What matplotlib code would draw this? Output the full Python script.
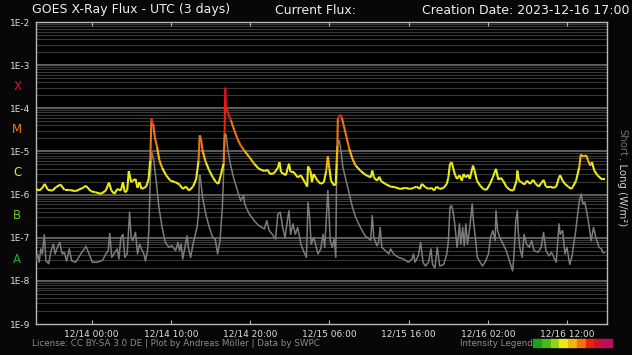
import matplotlib
matplotlib.use("Agg")
import matplotlib.pyplot as plt
import numpy as np
from matplotlib.collections import LineCollection

# hours after 2023-12-13 17:00 UTC
long_hours = [0.0, 0.4, 0.8, 1.1, 1.5, 2.1, 2.5, 3.1, 3.6, 4.2, 5.0, 5.9, 6.3, 6.9, 7.5, 8.2,
              8.8, 9.2, 9.5, 9.9, 10.25, 10.7, 10.96, 11.2, 11.5, 11.7, 12.0, 12.2, 12.55, 12.8,
              13.05, 13.3, 13.6, 13.9, 14.2, 14.4, 14.56, 14.77, 14.98, 15.27, 15.56, 15.9, 16.4,
              16.95, 17.57, 18.1, 18.5, 18.9, 19.3, 19.8, 20.2, 20.5, 20.64, 20.8, 21.0, 21.4,
              21.85, 22.3, 22.7, 23.0, 23.3, 23.65, 23.78, 23.86, 23.99, 24.24, 24.57, 25.0, 25.4,
              25.8, 26.25, 26.9, 27.5, 28.1, 28.8, 29.2, 29.5, 30.0, 30.5, 30.7, 30.9, 31.5, 31.9,
              32.1, 32.5, 33.0, 33.4, 33.9, 34.2, 34.3, 34.6, 34.8, 35.0, 35.5, 35.9, 36.3, 36.6,
              36.8, 37.0, 37.2, 37.6, 37.8, 37.9, 38.0, 38.06, 38.23, 38.4, 38.56, 38.8, 39.15,
              39.5, 39.9, 40.3, 40.9, 41.5, 42.2, 42.4, 42.6, 43.0, 43.3, 43.5, 44.05, 44.7, 45.3,
              45.9, 46.6, 47.2, 47.6, 48.0, 48.4, 48.65, 49.1, 49.5, 49.9, 50.2, 50.5, 50.9, 51.4,
              51.8, 52.0, 52.2, 52.4, 52.85, 53.1, 53.4, 53.7, 53.9, 54.2, 54.5, 54.7, 55.1, 55.3,
              55.6, 56.0, 56.4, 56.8, 57.25, 57.6, 58.0, 58.3, 58.6, 58.9, 59.3, 59.75, 60.2, 60.6,
              60.7, 60.9, 61.2, 61.6, 61.9, 62.3, 62.7, 63.0, 63.4, 63.7, 64.0, 64.3, 64.8, 65.2,
              65.6, 65.95, 66.1, 66.4, 66.7, 67.1, 67.5, 67.7, 68.1, 68.5, 68.7, 69.0, 69.4, 69.6,
              69.9, 70.1, 70.4, 70.8, 71.3, 71.7]
long_flux = [1.35e-6, 1.24e-6, 1.43e-6, 1.77e-6, 1.28e-6, 1.24e-6, 1.48e-6, 1.71e-6, 1.28e-6,
             1.28e-6, 1.2e-6, 1.43e-6, 1.6e-6, 1.2e-6, 1.13e-6, 1.04e-6, 1.24e-6, 1.9e-6, 1.24e-6,
             1.04e-6, 1.35e-6, 1.24e-6, 1.94e-6, 1.13e-6, 1.24e-6, 3.5e-6, 1.94e-6, 2.1e-6, 2.3e-6,
             1.43e-6, 1.94e-6, 1.35e-6, 1.43e-6, 1.53e-6, 2.3e-6, 6.2e-6, 5.75e-5, 4.4e-5, 2.15e-5,
             1.26e-5, 6.2e-6, 4.2e-6, 2.8e-6, 2.1e-6, 1.94e-6, 1.71e-6, 1.35e-6, 1.53e-6, 1.24e-6,
             1.53e-6, 2.3e-6, 6.2e-6, 2.36e-5, 1.97e-5, 1.05e-5, 5.65e-6, 3.6e-6, 2.5e-6, 1.94e-6,
             1.77e-6, 2.8e-6, 5.2e-6, 2.6e-5, 3.0e-4, 1.07e-4, 7.5e-5, 5.3e-5, 3.1e-5, 1.97e-5,
             1.38e-5, 1.05e-5, 7.4e-6, 5.2e-6, 3.95e-6, 3.5e-6, 3.75e-6, 3.0e-6, 3.1e-6, 4.2e-6,
             5.65e-6, 3.3e-6, 2.8e-6, 5.2e-6, 3.3e-6, 3.3e-6, 2.5e-6, 2.8e-6, 1.94e-6, 1.53e-6,
             4.5e-6, 3.6e-6, 1.94e-6, 3.0e-6, 2.1e-6, 1.77e-6, 1.94e-6, 3.6e-6, 7.6e-6, 3.95e-6,
             2.1e-6, 1.62e-6, 1.77e-6, 5.2e-6, 1.38e-5, 5.75e-5, 6.5e-5, 7.1e-5, 6.1e-5, 4.0e-5,
             2.15e-5, 1.15e-5, 6.75e-6, 4.7e-6, 3.6e-6, 2.9e-6, 2.5e-6, 3.6e-6, 2.5e-6, 2.1e-6,
             2.6e-6, 2.05e-6, 1.77e-6, 1.53e-6, 1.48e-6, 1.35e-6, 1.43e-6, 1.35e-6, 1.43e-6,
             1.53e-6, 1.35e-6, 1.77e-6, 1.48e-6, 1.35e-6, 1.43e-6, 1.24e-6, 1.53e-6, 1.35e-6,
             1.43e-6, 1.77e-6, 2.5e-6, 5.2e-6, 5.65e-6, 2.8e-6, 2.3e-6, 2.8e-6, 2.1e-6, 3.0e-6,
             2.5e-6, 2.9e-6, 2.3e-6, 4.7e-6, 3.6e-6, 2.1e-6, 1.62e-6, 1.35e-6, 1.28e-6, 1.77e-6,
             2.5e-6, 3.95e-6, 2.2e-6, 2.45e-6, 2.1e-6, 1.53e-6, 1.28e-6, 1.24e-6, 2.1e-6, 3.6e-6,
             2.1e-6, 1.94e-6, 1.71e-6, 2.1e-6, 1.77e-6, 2.2e-6, 1.77e-6, 1.53e-6, 1.84e-6, 2.2e-6,
             1.53e-6, 1.53e-6, 1.43e-6, 1.53e-6, 2.5e-6, 2.8e-6, 2.1e-6, 1.77e-6, 1.53e-6, 1.35e-6,
             1.53e-6, 2.1e-6, 4.3e-6, 8.5e-6, 7.6e-6, 8.1e-6, 6.2e-6, 4.7e-6, 5.65e-6, 3.6e-6,
             2.8e-6, 2.3e-6, 2.3e-6]

short_hours = [0.0, 0.2, 0.4, 0.6, 0.8, 1.05, 1.25, 1.6, 1.9, 2.2, 2.4, 2.7, 3.0, 3.3, 3.55, 3.85,
               4.2, 4.5, 5.0, 5.65, 6.3, 6.7, 7.1, 7.75, 8.4, 8.8, 9.1, 9.3, 9.55, 9.95, 10.25,
               10.45, 10.7, 10.96, 11.2, 11.5, 11.8, 12.0, 12.2, 12.55, 12.8, 13.05, 13.3, 13.6,
               13.8, 14.06, 14.23, 14.4, 14.6, 14.85, 15.15, 15.5, 15.9, 16.3, 16.75, 17.15, 17.6,
               17.9, 18.1, 18.3, 18.5, 18.7, 19.05, 19.2, 19.5, 19.8, 20.05, 20.3, 20.5, 20.6,
               20.7, 21.0, 21.4, 21.85, 22.3, 22.6, 22.9, 23.2, 23.5, 23.7, 23.82, 23.99, 24.15,
               24.5, 24.9, 25.4, 25.8, 26.2, 26.3, 26.9, 27.5, 28.1, 28.8, 29.1, 29.4, 29.8, 30.2,
               30.5, 30.8, 31.1, 31.4, 31.7, 31.9, 32.1, 32.4, 32.7, 33.0, 33.4, 33.8, 34.1, 34.3,
               34.5, 34.7, 35.0, 35.25, 35.55, 35.9, 36.2, 36.4, 36.6, 36.8, 36.95, 37.1, 37.35,
               37.6, 37.8, 37.9, 38.06, 38.23, 38.4, 38.7, 39.1, 39.5, 39.9, 40.3, 40.9, 41.5,
               42.2, 42.4, 42.6, 43.0, 43.2, 43.4, 43.6, 44.05, 44.5, 44.7, 45.1, 45.7, 46.35,
               46.95, 47.4, 47.6, 47.8, 48.2, 48.5, 48.8, 49.1, 49.5, 49.8, 50.0, 50.3, 50.6, 50.9,
               51.4, 51.8, 52.0, 52.2, 52.4, 52.6, 52.8, 53.1, 53.4, 53.56, 53.8, 54.0, 54.2, 54.4,
               54.7, 55.0, 55.15, 55.4, 55.65, 56.0, 56.3, 56.7, 57.05, 57.3, 57.6, 57.9, 58.0,
               58.2, 58.5, 58.9, 59.3, 59.75, 60.1, 60.25, 60.5, 60.7, 60.8, 61.0, 61.3, 61.55,
               61.85, 62.2, 62.5, 62.8, 63.3, 63.7, 64.0, 64.3, 64.7, 65.0, 65.3, 65.6, 65.95,
               66.1, 66.4, 66.7, 66.95, 67.3, 67.6, 67.8, 68.0, 68.3, 68.55, 68.75, 68.95, 69.2,
               69.5, 69.7, 70.0, 70.3, 70.6, 71.0, 71.3, 71.5, 71.7]
short_flux = [2.9e-8, 4.2e-8, 2.7e-8, 5.5e-8, 4.2e-8, 1.17e-7, 2.9e-8, 2.5e-8, 5.0e-8, 7.1e-8,
              4.2e-8, 6.0e-8, 7.8e-8, 4.2e-8, 4.6e-8, 2.9e-8, 5.5e-8, 2.9e-8, 2.7e-8, 4.2e-8,
              6.3e-8, 4.2e-8, 2.7e-8, 2.7e-8, 3.0e-8, 4.2e-8, 5.0e-8, 1.26e-7, 3.5e-8, 4.6e-8,
              5.5e-8, 3.2e-8, 1.0e-7, 1.2e-7, 3.5e-8, 4.2e-8, 3.9e-7, 1.0e-7, 8.5e-8, 1.33e-7,
              4.2e-8, 7.1e-8, 5.5e-8, 4.2e-8, 2.9e-8, 5.0e-8, 1.46e-7, 2.1e-6, 9.7e-6, 6.2e-6,
              2.1e-6, 5.1e-7, 1.74e-7, 7.8e-8, 6.0e-8, 6.5e-8, 5.0e-8, 7.8e-8, 5.0e-8, 7.1e-8,
              3.2e-8, 5.0e-8, 1.1e-7, 6.0e-8, 3.5e-8, 7.1e-8, 1.1e-7, 1.74e-7, 3.55e-7, 2.8e-6,
              2.8e-6, 8.7e-7, 3.55e-7, 1.74e-7, 1.0e-7, 9.3e-8, 4.2e-8, 8.5e-8, 5.1e-7, 5.2e-6,
              2.6e-5, 2.4e-5, 1.26e-5, 5.2e-6, 2.5e-6, 1.24e-6, 7.25e-7, 9.5e-7, 6.1e-7, 3.55e-7,
              2.5e-7, 1.9e-7, 1.6e-7, 2.5e-7, 1.46e-7, 1.2e-7, 9.3e-8, 3.55e-7, 3.9e-7, 1.74e-7,
              1.0e-7, 2.5e-7, 4.25e-7, 1.2e-7, 2.1e-7, 1.2e-7, 1.74e-7, 7.1e-8, 4.6e-8, 3.5e-8,
              6.6e-7, 3.0e-7, 7.1e-8, 1.0e-7, 7.1e-8, 4.2e-8, 5.5e-8, 1.2e-7, 6.0e-8, 2.5e-7,
              1.24e-6, 3.55e-7, 8.5e-8, 6.0e-8, 9.3e-8, 3.5e-8, 2.5e-6, 1.5e-5, 1.8e-5, 1.26e-5,
              4.3e-6, 2.1e-6, 1.04e-6, 5.1e-7, 3.0e-7, 1.74e-7, 1.1e-7, 8.8e-8, 3.25e-7, 1.0e-7,
              6.5e-8, 7.8e-8, 1.74e-7, 6.0e-8, 5.0e-8, 4.2e-8, 5.5e-8, 4.2e-8, 3.5e-8, 3.2e-8,
              2.7e-8, 3.2e-8, 4.2e-8, 2.7e-8, 3.8e-8, 7.8e-8, 2.7e-8, 2.2e-8, 2.7e-8, 5.5e-8,
              2.4e-8, 2.0e-8, 6.0e-8, 2.2e-8, 2.4e-8, 4.2e-8, 8.5e-8, 5.1e-7, 5.55e-7, 3.9e-7,
              2.1e-7, 6.0e-8, 2.1e-7, 7.1e-8, 1.74e-7, 6.5e-8, 2.1e-7, 7.1e-8, 1.74e-7, 6.1e-7,
              2.5e-7, 1.0e-7, 3.5e-8, 2.7e-8, 2.2e-8, 2.9e-8, 4.2e-8, 1.0e-7, 1.46e-7, 8.5e-8,
              4.25e-7, 1.46e-7, 1.0e-7, 7.1e-8, 5.0e-8, 2.7e-8, 1.7e-8, 3.5e-8, 2.5e-7, 4.25e-7,
              1.46e-7, 6.0e-8, 3.5e-8, 1.2e-7, 7.1e-8, 6.0e-8, 8.5e-8, 5.0e-8, 4.6e-8, 6.0e-8,
              1.33e-7, 5.0e-8, 3.8e-8, 4.6e-8, 3.5e-8, 2.7e-8, 2.1e-7, 1.2e-7, 1.46e-7, 4.2e-8,
              6.0e-8, 2.4e-8, 3.8e-8, 7.1e-8, 1.2e-7, 3.55e-7, 7.9e-7, 1.04e-6, 6.1e-7, 6.6e-7,
              3.55e-7, 2.1e-7, 8.5e-8, 1.74e-7, 1.0e-7, 6.0e-8, 5.5e-8, 4.5e-8, 4.5e-8]

tick_hours = [7, 17, 27, 37, 47, 57, 67]
tick_labels = ["12/14 00:00", "12/14 10:00", "12/14 20:00", "12/15 06:00",
               "12/15 16:00", "12/16 02:00", "12/16 12:00"]
decades = [1e-9, 1e-8, 1e-7, 1e-6, 1e-5, 1e-4, 1e-3, 1e-2]
decade_labels = ["1E-9", "1E-8", "1E-7", "1E-6", "1E-5", "1E-4", "1E-3", "1E-2"]
classes = ["A", "B", "C", "M", "X"]
class_levels = [3.2e-8, 3.2e-7, 3.2e-6, 3.2e-5, 3.2e-4]
class_colors = ["#1fae1f", "#6cc21a", "#e6e619", "#f07a14", "#dc1238"]

# intensity legend boxes
legend_colors = ["#1e9e1e", "#47b81c", "#98cf1a", "#ecec18", "#f2b514", "#f07414",
                 "#ee2010", "#cc1232", "#b8105e"]
# colour of the long channel: lower bound of each step
level_bounds = [0, 1e-7, 1e-6, 5e-6, 1e-5, 5e-5, 1e-4, 5e-4]
level_colors = ["#1e9e1e", "#6cc21a", "#ecec18", "#f2b514", "#f07414", "#ee2010",
                "#cc1232", "#b8105e"]


def flux_color(v):
    c = level_colors[0]
    for b, col in zip(level_bounds, level_colors):
        if v >= b:
            c = col
    return c


fig = plt.figure(figsize=(6.32, 3.55), dpi=100, facecolor="#070707")
ax = fig.add_axes([36 / 632, 1 - 324 / 355, 571 / 632, 302 / 355])
ax.set_facecolor("black")
ax.set_yscale("log")
ax.set_ylim(1e-9, 1e-2)
ax.set_xlim(0, 72)

# grid: every minor step of each decade
for d in decades[:-1]:
    for m in range(2, 10):
        ax.axhline(d * m, color="#383838", lw=0.8, zorder=1)
for d in decades[1:-1]:
    ax.axhline(d, color="#666666", lw=1.3, zorder=1)

ax.plot(short_hours, short_flux, color="#7c7c7c", lw=1.1, zorder=3)

pts = np.column_stack([long_hours, long_flux])
segs = np.stack([pts[:-1], pts[1:]], axis=1)
seg_vals = np.sqrt(np.array(long_flux[:-1]) * np.array(long_flux[1:]))
lc = LineCollection(segs, colors=[flux_color(v) for v in seg_vals], linewidths=1.5, zorder=4)
ax.add_collection(lc)

for s in ax.spines.values():
    s.set_color("#b8b8b8")
    s.set_linewidth(1.0)

ax.set_yticks(decades)
ax.set_yticklabels(decade_labels)
ax.yaxis.set_minor_locator(matplotlib.ticker.NullLocator())
ax.tick_params(axis="y", length=0, colors="#dddddd", labelsize=6.5, pad=4)
ax.set_xticks(tick_hours)
ax.set_xticklabels(tick_labels)
ax.tick_params(axis="x", direction="in", length=3, color="#b8b8b8", colors="#dddddd",
               labelsize=6.5, top=True, pad=4)
ax.tick_params(axis="x", which="both", color="#b8b8b8")

for lab, lev, col in zip(classes, class_levels, class_colors):
    ax.text(-0.033, lev, lab, transform=ax.get_yaxis_transform(), color=col,
            fontsize=8.5, ha="center", va="center")

fig.text(32 / 632, 1 - 10 / 355, "GOES X-Ray Flux - UTC (3 days)", color="#eeeeee",
         fontsize=9, ha="left", va="center")
fig.text(275 / 632, 1 - 10 / 355, "Current Flux:", color="#eeeeee",
         fontsize=9, ha="left", va="center")
fig.text(630 / 632, 1 - 10 / 355, "Creation Date: 2023-12-16 17:00", color="#eeeeee",
         fontsize=9, ha="right", va="center")

fig.text(622 / 632, 1 - 129 / 355, "Short", color="#6f6f6f", fontsize=7.3,
         rotation=270, ha="center", va="top")
fig.text(622 / 632, 1 - 157 / 355, ". Long (W/m²)", color="#cfcfcf", fontsize=7.3,
         rotation=270, ha="center", va="top")

fig.text(32 / 632, 1 - 343 / 355, "License: CC BY-SA 3.0 DE | Plot by Andreas Möller | Data by SWPC",
         color="#8c8c8c", fontsize=6.3, ha="left", va="center")
fig.text(533 / 632, 1 - 343 / 355, "Intensity Legend", color="#8c8c8c", fontsize=6.3,
         ha="right", va="center")
bw = 79 / 632 / len(legend_colors)
for i, col in enumerate(legend_colors):
    fig.patches.append(plt.Rectangle((533 / 632 + i * bw, 1 - 347 / 355), bw, 8 / 355,
                                     transform=fig.transFigure, color=col, figure=fig))

fig.savefig("out.png", dpi=100, facecolor=fig.get_facecolor())
